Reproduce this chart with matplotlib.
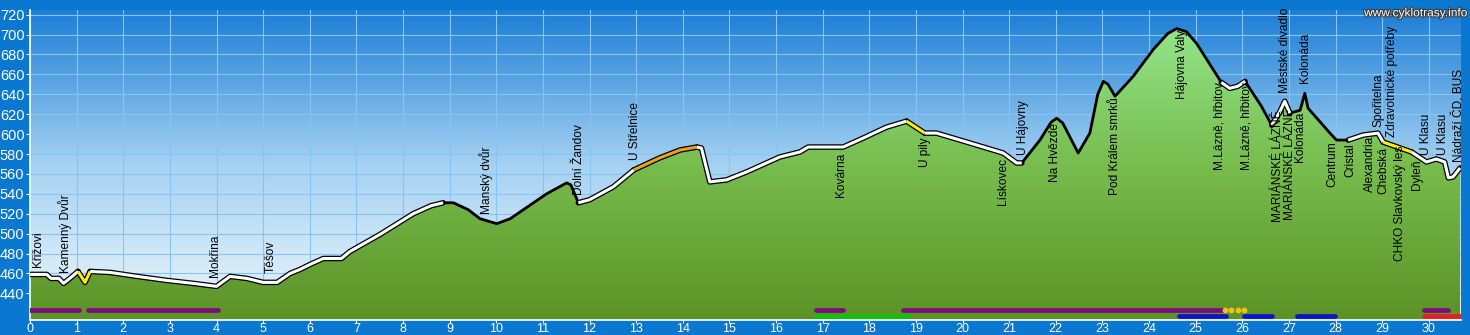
import numpy as np
import matplotlib.pyplot as plt
import matplotlib.patheffects as pe
from matplotlib.colors import LinearSegmentedColormap

# route profile: distance (km) and elevation (m)
km = [0.00, 0.36, 0.45, 0.62, 0.72, 0.88, 1.03, 1.18, 1.29, 1.72, 2.30, 2.93,
      3.50, 4.00, 4.29, 4.65, 5.00, 5.30, 5.58, 5.79, 6.05, 6.29, 6.68, 6.86,
      7.50, 8.22, 8.60, 8.86, 9.08, 9.40, 9.65, 10.01, 10.30, 10.58, 11.08,
      11.51, 11.60, 11.76, 12.00, 12.51, 12.95, 13.50, 13.94, 14.30, 14.40,
      14.58, 14.94, 15.37, 16.08, 16.51, 16.69, 17.44, 17.87, 18.37, 18.80,
      19.19, 19.44, 20.16, 20.87, 21.16, 21.27, 21.66, 21.90, 22.02, 22.15,
      22.48, 22.73, 22.90, 23.02, 23.12, 23.27, 23.66, 24.09, 24.40, 24.59,
      24.80, 25.02, 25.55, 25.73, 25.90, 26.06, 26.41, 26.63, 26.80, 26.91,
      27.02, 27.24, 27.34, 27.41, 27.88, 28.02, 28.27, 28.59, 28.91, 29.02,
      29.63, 29.95, 30.16, 30.34, 30.42, 30.52, 30.67]
elev = [459, 459, 455, 455, 450, 456, 462, 451, 462, 461, 457, 453,
        450, 447, 457, 455, 451, 451, 460, 464, 470, 475, 475, 482,
        499, 520, 528, 531, 531, 524, 515, 510, 515, 524, 540,
        551, 549, 531, 534, 547, 564, 576, 584, 587, 586,
        552, 554, 562, 577, 582, 587, 587, 596, 607, 613,
        601, 601, 591, 581, 571, 571, 594, 612, 616, 611,
        581, 601, 640, 653, 650, 638, 658, 685, 701, 706,
        703, 691, 652, 646, 648, 653, 628, 609, 622, 633,
        621, 624, 641, 626, 601, 594, 594, 599, 601, 592,
        582, 572, 575, 572, 556, 557, 566]

# surface type along the route (start km, end km, colour)
surfaces = [(0.00, 1.03, "white"), (1.03, 1.29, "#ffee00"), (1.29, 8.86, "white"),
            (11.76, 12.95, "white"), (12.95, 14.30, "#f0a020"), (14.30, 18.80, "white"),
            (18.80, 19.19, "#ffee00"), (19.19, 21.27, "white"), (25.55, 26.06, "white"),
            (26.63, 27.02, "white"), (28.27, 29.02, "white"), (29.02, 29.63, "#ffee00"),
            (29.63, 30.67, "white")]

# waypoint labels: km, name, elevation where the text starts
stops_km = [0.18, 0.75, 3.97, 5.16, 9.79, 11.78, 12.97, 17.39, 19.19, 20.87,
            21.30, 21.98, 23.27, 24.70, 25.52, 26.08, 26.77, 27.02, 27.24,
            26.91, 27.34, 27.94, 28.32, 28.74, 28.91, 29.02, 29.20, 29.38,
            29.75, 29.95, 30.31, 30.65]
stops_name = ["Křižovi", "Kamenný Dvůr", "Mokřina", "Těšov", "Manský dvůr",
              "Dolní Žandov", "U Střelnice", "Kovárna", "U pily", "Lískovec",
              "U Hájovny", "Na Hvězdě", "Pod Králem smrků", "Hájovna Valy",
              "M.Lázně, hřbitov", "M.Lázně, hřbitov", "MARIÁNSKÉ LÁZNĚ",
              "MARIÁNSKÉ LÁZNĚ", "Kolonáda", "Městské divadlo", "Kolonáda",
              "Centrum", "Cristal", "Alexandria", "Spořitelna", "Chebská",
              "Zdravotnické potřeby", "CHKO Slavkovský les", "Dyleň", "U Klasu",
              "U Klasu", "Nádraží ČD, BUS"]
stops_y = [466, 460, 456, 460, 520, 539, 574, 537, 567, 529,
           579, 552, 539, 635, 564, 564, 512, 514, 572,
           641, 651, 547, 557, 542, 607, 540, 597, 472,
           544, 579, 579, 572]

# route markings along the bottom: (start km, end km, row, colour)
markings = [(0.00, 1.06, 0, "#7d0a7d"), (1.25, 4.03, 0, "#7d0a7d"),
            (16.85, 17.43, 0, "#7d0a7d"), (18.72, 25.58, 0, "#7d0a7d"),
            (29.90, 30.42, 0, "#7d0a7d"), (16.85, 18.84, 1, "#12c012"),
            (24.65, 25.65, 1, "#0a14c8"), (26.03, 26.63, 1, "#0a14c8"),
            (27.18, 27.99, 1, "#0a14c8"), (29.90, 30.69, 1, "#e02222")]
dots_km = [25.62, 25.76, 25.90, 26.04]

km = np.array(km)
elev = np.array(elev)
x0, x1 = 0, 30.69
y0, y1 = 413.2, 724.7
row_y = [423.2, 417.2]

plt.rcParams['font.family'] = ['Liberation Sans', 'DejaVu Sans']

fig = plt.figure(figsize=(14.7, 3.35), dpi=100)
fig.patch.set_facecolor("#0a78d0")
ax = fig.add_axes([30 / 1470, 15 / 335, 1431 / 1470, 310 / 335])

# sky gradient
sky = LinearSegmentedColormap.from_list("sky", ["#eef7fd", "#a6d2f2", "#1c7ed6"])
grad = np.linspace(0, 1, 256).reshape(-1, 1)
ax.imshow(grad, cmap=sky, origin="lower", aspect="auto",
          extent=[x0, x1, y0, y1], zorder=0)

# grid
for gx in range(0, 31):
    ax.axvline(gx, color="#86c4f6", lw=0.8, zorder=1)
for gy in range(440, 721, 20):
    ax.axhline(gy, color="#86c4f6", lw=0.8, zorder=1)

# terrain with green gradient
terrain = ax.fill_between(km, elev, y0, facecolor="none", edgecolor="none", zorder=2)
green = LinearSegmentedColormap.from_list("green", ["#5c9226", "#76bb4c", "#94e68c"])
img = ax.imshow(np.linspace(0, 1, 256).reshape(-1, 1), cmap=green, origin="lower",
                aspect="auto", extent=[x0, x1, y0, 712], zorder=2)
img.set_clip_path(terrain.get_paths()[0], transform=ax.transData)

# profile line: black base, coloured surface sections on top
ax.plot(km, elev, color="black", lw=2.0, zorder=3, solid_capstyle="round")
for a, b, c in surfaces:
    m = (km >= a) & (km <= b)
    ax.plot(km[m], elev[m], color="black", lw=4.0, zorder=4,
            solid_capstyle="round", solid_joinstyle="round")
for a, b, c in surfaces:
    m = (km >= a) & (km <= b)
    ax.plot(km[m], elev[m], color=c, lw=2.2, zorder=5,
            solid_capstyle="butt", solid_joinstyle="round")

# bottom markings
for a, b, r, c in markings:
    ax.plot([a, b], [row_y[r], row_y[r]], color=c, lw=3.4,
            solid_capstyle="round", zorder=6)
ax.plot(dots_km, [row_y[0]] * len(dots_km), "o", color="#f2c21c", ms=4.2,
        mec="none", zorder=6)

# waypoint labels
for sx, name, sy in zip(stops_km, stops_name, stops_y):
    ax.text(sx, sy, name, rotation=90, ha="center", va="bottom",
            fontsize=8.6, color="black", zorder=7)

ax.set_xlim(x0, x1)
ax.set_ylim(y0, y1)
ax.set_xticks(range(0, 31))
ax.set_yticks(range(440, 721, 20))
ax.tick_params(colors="white", labelcolor="white", width=0.8)
ax.tick_params(axis="y", labelsize=10.5, length=3, pad=1)
ax.tick_params(axis="x", labelsize=9, length=2, pad=0)
for s in ["top", "right"]:
    ax.spines[s].set_visible(False)
for s in ["left", "bottom"]:
    ax.spines[s].set_color("white")
    ax.spines[s].set_linewidth(1.2)

fig.text(0.998, 0.978, "www.cyklotrasy.info", ha="right", va="top",
         fontsize=8.6, color="white",
         path_effects=[pe.withStroke(linewidth=1.6, foreground="#3a3a3a")])

fig.savefig("out.png", dpi=100, facecolor=fig.get_facecolor())
